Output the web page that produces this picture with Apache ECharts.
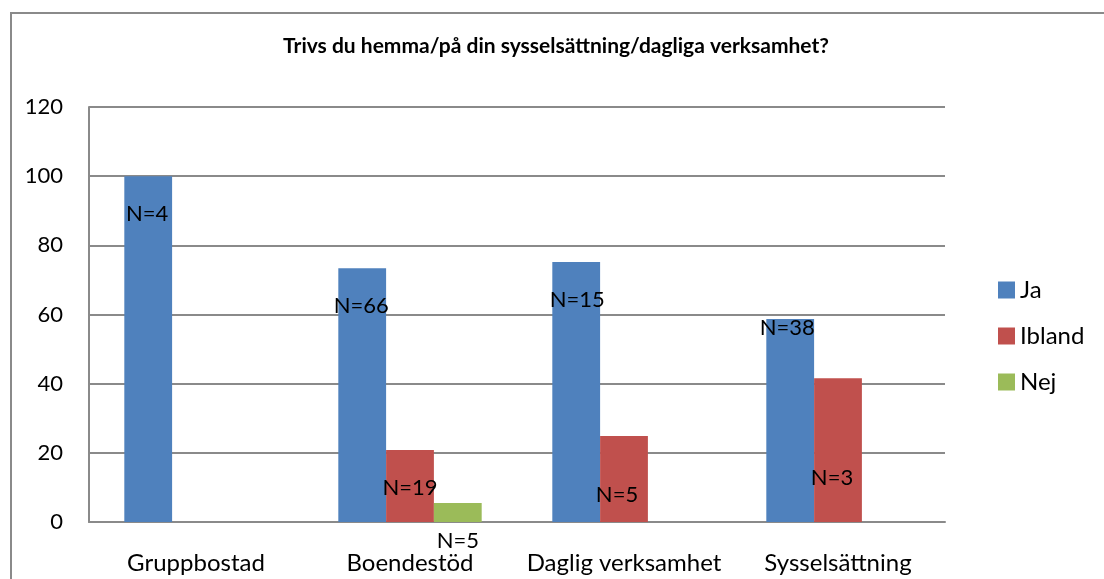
<!DOCTYPE html>
<html>
<head>
<meta charset="utf-8">
<script src="https://cdn.jsdelivr.net/npm/echarts@6/dist/echarts.min.js"></script>
<style>
html,body{margin:0;padding:0;background:#fff;}
#c{width:1104px;height:579px;}
</style>
</head>
<body>
<div id="c"></div>
<script>
const titleText = 'Trivs du hemma/på din sysselsättning/dagliga verksamhet?';
const categories = ['Gruppbostad', 'Boendestöd', 'Daglig verksamhet', 'Sysselsättning'];
const seriesNames = ['Ja', 'Ibland', 'Nej'];
const jaValues = [100, 73.4, 75.2, 58.7];
const iblandValues = [0, 20.8, 24.9, 41.6];
const nejValues = [0, 5.5, 0, 0];
const jaLabels = ['N=4', 'N=66', 'N=15', 'N=38'];
const iblandLabels = ['', 'N=19', 'N=5', 'N=3'];
const nejLabels = ['', 'N=5', '', ''];
const yTicks = [0, 20, 40, 60, 80, 100, 120];

const colors = ['#4F81BD', '#C0504D', '#9BBB59'];
const FONT = 'Lato, "Open Sans", sans-serif';

// label placement (styling, relative to each bar's top)
const labelPlace = {
  'Ja': [[-1, 38], [-1, 38], [1, 38], [-3, 9]],
  'Ibland': [[0, 38], [0, 38], [-7, 59], [-6, 100]],
  'Nej': [[0, 38], [0, 38], [0, 38], [0, 38]]
};

function buildSeries(name, values, labels, color) {
  return {
    name: name,
    type: 'bar',
    barGap: '0%',
    barCategoryGap: '33%',
    itemStyle: { color: color },
    data: values.map((v, i) => ({
      value: v,
      label: {
        show: !!labels[i],
        formatter: labels[i],
        position: ['50%', labelPlace[name][i][1]],
        offset: [labelPlace[name][i][0], 0],
        align: 'center',
        verticalAlign: 'middle',
        color: '#000',
        fontSize: 22,
        fontFamily: FONT
      }
    }))
  };
}

const chart = echarts.init(document.getElementById('c'), null, { renderer: 'canvas' });
chart.setOption({
  animation: false,
  backgroundColor: '#fff',
  title: {
    text: titleText,
    left: 551,
    textAlign: 'center',
    top: 31,
    textStyle: { fontFamily: FONT, fontSize: 21, fontWeight: 'bold', color: '#000' }
  },
  graphic: [{
    type: 'rect',
    shape: { x: 11, y: 13, width: 1200, height: 700 },
    style: { fill: null, stroke: '#8a8a8a', lineWidth: 2 },
    silent: true,
    z: -1
  }],
  legend: {
    orient: 'vertical',
    left: 993,
    top: 273,
    itemWidth: 17,
    itemHeight: 17,
    itemGap: 22,
    icon: 'rect',
    data: seriesNames,
    textStyle: { fontFamily: FONT, fontSize: 24, color: '#000' }
  },
  grid: { left: 89, right: 159, top: 107, bottom: 57, containLabel: false },
  xAxis: {
    type: 'category',
    data: categories,
    axisLine: { lineStyle: { color: '#8a8a8a', width: 2 } },
    axisTick: { show: false },
    axisLabel: { interval: 0, hideOverlap: false, fontFamily: FONT, fontSize: 24, color: '#000', margin: 29 }
  },
  yAxis: {
    type: 'value',
    min: yTicks[0],
    max: yTicks[yTicks.length - 1],
    interval: yTicks[1] - yTicks[0],
    axisLine: { show: true, lineStyle: { color: '#8a8a8a', width: 2 } },
    axisTick: { show: false },
    splitLine: { lineStyle: { color: '#8a8a8a', width: 2 } },
    axisLabel: { fontFamily: FONT, fontSize: 22, color: '#000', margin: 26 }
  },
  series: [
    buildSeries('Ja', jaValues, jaLabels, colors[0]),
    buildSeries('Ibland', iblandValues, iblandLabels, colors[1]),
    buildSeries('Nej', nejValues, nejLabels, colors[2])
  ]
});
</script>
</body>
</html>
